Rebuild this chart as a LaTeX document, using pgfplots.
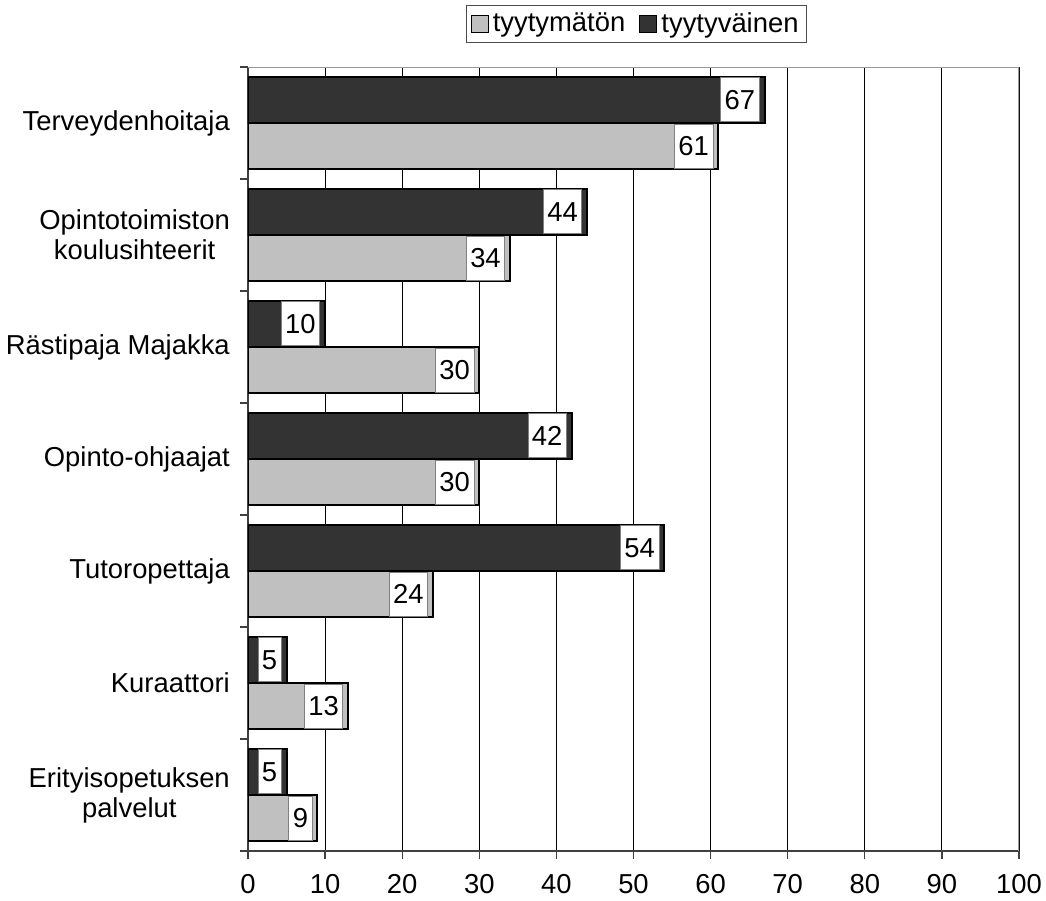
\documentclass[border=0pt]{standalone}
\usepackage{fontspec}
\setmainfont{Liberation Sans}
\usepackage{pgfplots}
\pgfplotsset{compat=1.18}
\definecolor{dark}{HTML}{333333}
\definecolor{light}{HTML}{C0C0C0}
\newcommand\cf{\fontsize{13.7bp}{15bp}\selectfont}

\begin{document}
\begin{tikzpicture}
\useasboundingbox (-124bp,-25bp) rectangle (399bp,425.5bp);
\begin{axis}[
  scale only axis, width=385.5bp, height=392bp,
  xbar, bar width=0.415,
  xmin=0, xmax=100, xtick={0,10,...,100},
  ymin=-0.5, ymax=6.5,
  ytick={-0.5,0.5,...,6.5}, yticklabels={},
  extra y ticks={0,1,2,3,4,5,6},
  extra y tick labels={{Erityisopetuksen\\palvelut}, Kuraattori, Tutoropettaja,
    Opinto-ohjaajat, Rästipaja Majakka, {Opintotoimiston\\koulusihteerit}, Terveydenhoitaja},
  extra y tick style={major tick length=0pt, yticklabel style={xshift=-5.6bp}},
  axis x line*=bottom, axis y line*=left,
  axis line style={draw=black!75, line width=0.8bp},
  tick align=outside, major tick length=4bp,
  tick style={draw=black!75, line width=0.6bp},
  xmajorgrids, grid style={black, line width=0.5bp},
  ticklabel style={font=\cf},
  /pgf/number format/assume math mode=true,
  xticklabel style={yshift=-4bp},
  yticklabel style={align=center},
  legend columns=2,
  legend style={at={(0.504,1)}, anchor=south, yshift=12bp, draw=black!70,
    line width=0.6bp, font=\cf, inner xsep=2bp, inner ysep=1.5bp,
    /tikz/every even column/.append style={column sep=5bp}},
  legend image code/.code={\draw[#1, draw=black, line width=0.6bp] (0bp,-4.25bp) rectangle (8.5bp,4.25bp);},
  nodes near coords,
  nodes near coords style={anchor=east, xshift=-2.5bp, fill=white, draw=black!50,
    line width=0.4bp, minimum height=22bp, inner xsep=2bp, inner ysep=0bp, font=\cf},
]
\addplot[fill=light, draw=black, line width=1bp, bar shift=-0.2075] coordinates {
  (61,6) (34,5) (30,4) (30,3) (24,2) (13,1) (9,0)};
\addlegendentry{tyytymätön}
\addplot[fill=dark, draw=black, line width=1bp, bar shift=0.2075] coordinates {
  (67,6) (44,5) (10,4) (42,3) (54,2) (5,1) (5,0)};
\addlegendentry{tyytyväinen}
\draw[black!40, line width=0.8bp] (rel axis cs:0,1) -- (rel axis cs:1,1) -- (rel axis cs:1,0);
\end{axis}
\end{tikzpicture}
\end{document}
